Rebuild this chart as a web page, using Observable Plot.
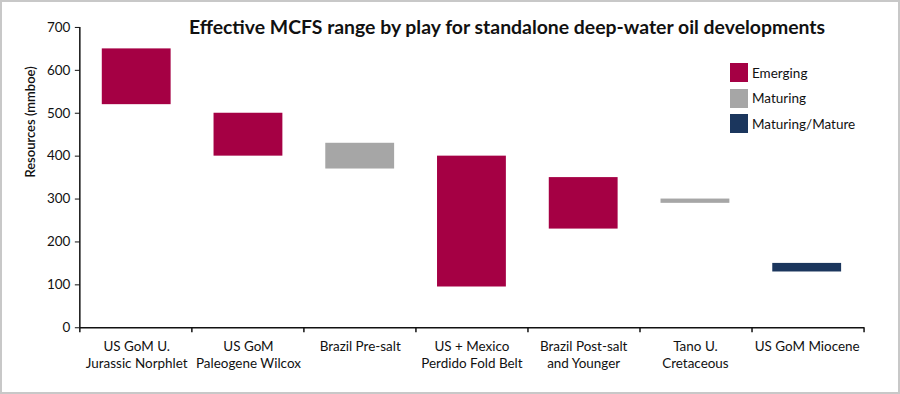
<!DOCTYPE html>
<html><head><meta charset="utf-8">
<script src="https://cdn.jsdelivr.net/npm/d3@7"></script>
<script src="https://cdn.jsdelivr.net/npm/@observablehq/plot@0.6"></script>
<style>
html,body{margin:0;padding:0;background:#fff;}
#wrap{position:relative;width:900px;height:394px;box-sizing:border-box;border:2px solid #c8c8c8;font-family:Lato,sans-serif;overflow:hidden;}
#chart{position:absolute;left:-2px;top:-2px;}
#title{position:absolute;left:0;width:1010px;top:13px;text-align:center;font-weight:bold;font-size:19.4px;color:#111;}
#legend{position:absolute;left:728px;top:58px;font-size:13.5px;color:#111;}
.li{display:flex;align-items:center;height:25.5px;}
.sw{width:18px;height:19px;margin-right:4px;}
</style></head>
<body>
<div id="wrap">
<div id="chart"></div>
<div id="title">Effective MCFS range by play for standalone deep-water oil developments</div>
<div id="legend"></div>
</div>
<script>
const plays = ["US GoM U. Jurassic Norphlet","US GoM Paleogene Wilcox","Brazil Pre-salt","US + Mexico Perdido Fold Belt","Brazil Post-salt and Younger","Tano U. Cretaceous","US GoM Miocene"];
const playLabels = ["US GoM U.\nJurassic Norphlet","US GoM\nPaleogene Wilcox","Brazil Pre-salt","US + Mexico\nPerdido Fold Belt","Brazil Post-salt\nand Younger","Tano U.\nCretaceous","US GoM Miocene"];
const low  = [520, 400, 370, 95, 230, 290, 130];
const high = [650, 500, 430, 400, 350, 300, 150];
const status = ["Emerging","Emerging","Maturing","Emerging","Emerging","Maturing","Maturing/Mature"];
const statusNames = ["Emerging","Maturing","Maturing/Mature"];
const statusColors = ["#a50044","#a6a6a6","#1b365d"];
const yTicks = [0,100,200,300,400,500,600,700];

const data = plays.map((p,i)=>({play:p, low:low[i], high:high[i], status:status[i]}));
const labelOf = new Map(plays.map((p,i)=>[p, playLabels[i]]));

const chart = Plot.plot({
  width: 900, height: 394,
  marginLeft: 80, marginRight: 34, marginTop: 27, marginBottom: 66,
  style: {fontFamily: "Lato, sans-serif", fontSize: "13.5px", color: "#111", background: "transparent"},
  x: {domain: plays, paddingInner: 0.38, paddingOuter: 0.19, label: null},
  y: {domain: [0,700], label: null},
  color: {domain: statusNames, range: statusColors},
  marks: [
    Plot.barY(data, {x: "play", y1: "low", y2: "high", fill: "status"}),
    Plot.axisY({ticks: yTicks, tickSize: 5, tickPadding: 5, label: null, fontSize: 13.5}),
    Plot.axisX({tickSize: 0, tickPadding: 11, tickFormat: d => labelOf.get(d), lineHeight: 1.25, label: null, fontSize: 13.5}),
    Plot.ruleY([0], {stroke: "#111", strokeWidth: 1.5}),
    Plot.text(["Resources (mmboe)"], {frameAnchor: "left", rotate: -90, dx: -50, fontWeight: 600, fontSize: 13, fill: "#111"})
  ]
});
document.getElementById("chart").appendChild(chart);

// axis lines and band-boundary ticks derived from the scales
const sx = chart.scale("x"), sy = chart.scale("y");
const [x0, x1] = sx.range;
const [yb, yt] = sy.range;
const svg = d3.select(chart);
const g = svg.append("g").attr("stroke", "#111").attr("stroke-width", 1.5);
g.append("line").attr("x1", x0).attr("x2", x0).attr("y1", yb).attr("y2", yt);
const n = sx.domain.length;
for (let i = 0; i <= n; i++) {
  const xx = x0 + i * (x1 - x0) / n;
  g.append("line").attr("x1", xx).attr("x2", xx).attr("y1", yb).attr("y2", yb + 5);
}

const leg = document.getElementById("legend");
statusNames.forEach((s,i)=>{
  const d = document.createElement("div"); d.className = "li";
  d.innerHTML = `<div class="sw" style="background:${statusColors[i]}"></div><span>${s}</span>`;
  leg.appendChild(d);
});
</script>
</body></html>
